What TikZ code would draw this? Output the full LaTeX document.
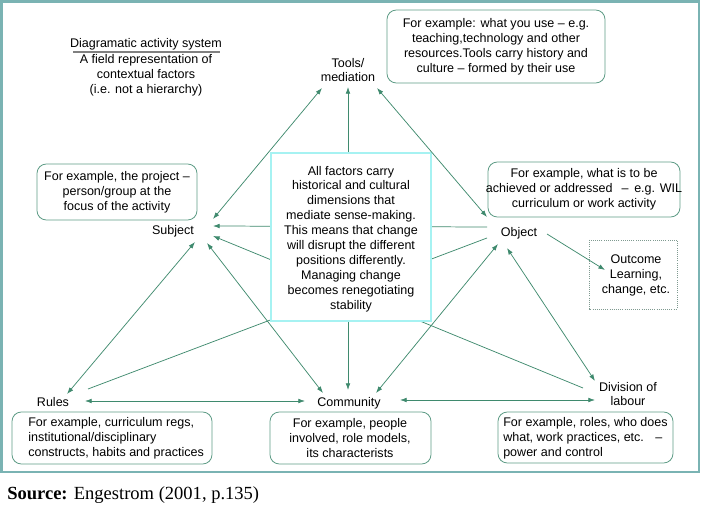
\documentclass[tikz,border=0pt]{standalone}
\usepackage{fontspec}
\setmainfont{Liberation Sans}
\newfontfamily\seriffont{Liberation Serif}
\usetikzlibrary{arrows.meta}
\definecolor{framec}{HTML}{7AB3B3}
\definecolor{arrc}{HTML}{3F8A6E}
\definecolor{boxc}{HTML}{5E9C86}
\definecolor{cyanc}{HTML}{A6F2F2}
\definecolor{dotc}{HTML}{7F9A90}
\tikzset{
  txt/.style={font=\fontsize{9.4}{11.2}\selectfont, inner sep=0pt, align=center},
  ltxt/.style={font=\fontsize{9.4}{11.2}\selectfont, inner sep=0pt, align=left},
  exbox/.style={draw=boxc, line width=0.6pt, rounded corners=7pt},
  conn/.style={draw=arrc, line width=0.55pt},
  both/.style={conn, {Latex[length=5pt,width=3.5pt]}-{Latex[length=5pt,width=3.5pt]}},
  tip/.style={conn, -{Latex[length=5pt,width=3.5pt]}},
}
\begin{document}
\begin{tikzpicture}[x=0.75pt,y=-0.75pt]
\useasboundingbox (0,0) rectangle (701,506);
\fill[white] (0,0) rectangle (701,506);
% frame
\draw[framec, line width=1.6pt] (1.5,1.5) rectangle (699,472);

% title
\node[txt] (title) at (146,44) {Diagramatic activity system};
\draw[gray, line width=0.8pt] (73,52) -- (220,52);
\node[txt] (field) at (146,75) {A field representation of\\contextual factors\\(i.e. not a hierarchy)};

% labels
\node[txt] (tools) at (348,70) {Tools/\\mediation};
\node[txt] (subject) at (173,231) {Subject};
\node[txt] (object) at (519,233) {Object};
\node[txt] (rules) at (53,402) {Rules};
\node[txt] (community) at (349,403) {Community};
\node[txt] (division) at (628,394) {Division of\\labour};

% example boxes
\draw[exbox] (387,10) rectangle (605,83);
\node[txt] (toolsex) at (496,47) {For example: what you use -- e.g.\\teaching,technology and other\\resources.Tools carry history and\\culture -- formed by their use};
\draw[exbox] (37,164) rectangle (197,220);
\node[txt] (subjex) at (117,192) {For example, the project --\\person/group at the\\focus of the activity};
\draw[exbox] (488,162) rectangle (680,217);
\node[txt] (objex) at (584,189) {For example, what is to be\\achieved or addressed \, -- \,e.g. WIL\\curriculum or work activity};
\draw[exbox] (12,412) rectangle (212,464);
\node[ltxt, anchor=west] (rulesex) at (28,438) {For example, curriculum regs,\\institutional/disciplinary\\constructs, habits and practices};
\draw[exbox] (270,412) rectangle (431,464);
\node[txt] (commex) at (350,438) {For example, people\\involved, role models,\\its characterists};
\draw[exbox] (498,412) rectangle (673,463);
\node[ltxt, anchor=west] (divex) at (503,438) {For example, roles, who does\\what, work practices, etc. \, --\\power and control};

% outcome
\draw[dotc, densely dotted, line width=0.6pt] (589,240) rectangle (677,309);
\node[txt] (outcome) at (636,275) {Outcome\\Learning,\\change, etc.};

% connector end points
\coordinate (tS) at (322,88);  \coordinate (sT) at (213,219);
\coordinate (tO) at (377,88);  \coordinate (oT) at (487,217);
\coordinate (tC) at (348,87);  \coordinate (cT) at (348,390);
\coordinate (sO) at (213,226); \coordinate (oS) at (487,227);
\coordinate (sD) at (213,236); \coordinate (dS) at (583,388);
\coordinate (rO) at (88,389);  \coordinate (oR) at (487,238);
\coordinate (sR) at (195,242); \coordinate (rS) at (67,394);
\coordinate (sC) at (207,243); \coordinate (cS) at (323,393);
\coordinate (oC) at (498,244); \coordinate (cO) at (376,393);
\coordinate (oD) at (507,248); \coordinate (dO) at (595,381);
\coordinate (rC1) at (85,401); \coordinate (cR) at (305,401);
\coordinate (cD) at (400,400); \coordinate (dC) at (595,400);
\coordinate (oOut) at (547,234); \coordinate (outO) at (605,270);

% connectors behind center box
\draw[both] (tC) -- (cT);
\draw[tip] (oS) -- (sO);
\draw[tip] (dS) -- (sD);
\draw[conn] (rO) -- (oR);

% center box
\node[draw=cyanc, line width=0.8pt, fill=white, minimum width=160pt*0.75, minimum height=168pt*0.75, inner sep=0pt] (center) at (351,237) {};
\node[txt, font=\fontsize{9.4}{11.2}\selectfont] (centertxt) at (351,239) {All factors carry\\historical and cultural\\dimensions that\\mediate sense-making.\\This means that change\\will disrupt the different\\positions differently.\\Managing change\\becomes renegotiating\\stability};

% other connectors
\draw[both] (tS) -- (sT);
\draw[both] (tO) -- (oT);
\draw[both] (sR) -- (rS);
\draw[both] (sC) -- (cS);
\draw[both] (oC) -- (cO);
\draw[both] (oD) -- (dO);
\draw[both] (rC1) -- (cR);
\draw[both] (cD) -- (dC);
\draw[tip] (oOut) -- (outO);

% source
\node[font=\seriffont\fontsize{13.9}{16}\selectfont, anchor=base west, inner sep=0pt] (source) at (7,499) {\textbf{Source:} Engestrom (2001, p.135)};
\end{tikzpicture}
\end{document}
